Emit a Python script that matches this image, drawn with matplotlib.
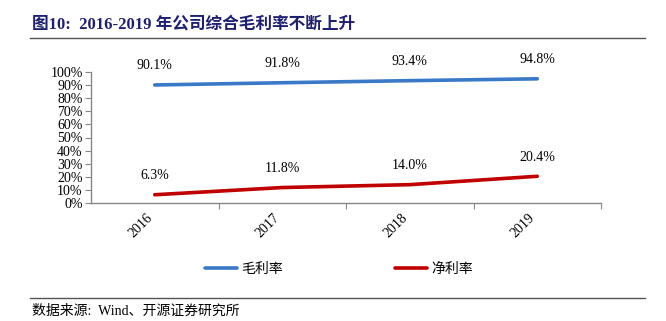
import matplotlib.pyplot as plt
from matplotlib.ticker import FixedLocator, PercentFormatter
from matplotlib.lines import Line2D

years = ['2016', '2017', '2018', '2019']
gross_margin = [90.1, 91.8, 93.4, 94.8]
net_margin = [6.3, 11.8, 14.0, 20.4]
series_names = ['毛利率', '净利率']

SERIF = ['Liberation Serif', 'Noto Sans CJK SC']
BLUE = '#3A78C8'
RED = '#C00000'

fig = plt.figure(figsize=(6.66, 3.21), dpi=100)
ax = fig.add_axes([91 / 666, 118 / 321, 510 / 666, 131 / 321])

x = list(range(len(years)))
ax.plot(x, gross_margin, color=BLUE, lw=2.6, solid_capstyle='round')
ax.plot(x, net_margin, color=RED, lw=2.6, solid_capstyle='round')

for xi, v in zip(x, gross_margin):
    ax.annotate(f'{v:.1f}%', (xi, v), xytext=(0, 9), textcoords='offset points',
                ha='center', va='bottom', fontsize=10, family=SERIF)
for xi, v in zip(x, net_margin):
    ax.annotate(f'{v:.1f}%', (xi, v), xytext=(0, 9), textcoords='offset points',
                ha='center', va='bottom', fontsize=10, family=SERIF)

ax.set_xlim(-0.5, len(years) - 0.5)
ax.set_ylim(0, 100)
ax.yaxis.set_major_locator(FixedLocator(range(0, 101, 10)))
ax.yaxis.set_major_formatter(PercentFormatter(decimals=0))
ax.xaxis.set_major_locator(FixedLocator([i + 0.5 for i in x]))
ax.xaxis.set_minor_locator(FixedLocator(x))
ax.set_xticklabels([], minor=False)
ax.set_xticklabels(years, minor=True, rotation=45, ha='right', va='top',
                   family=SERIF, fontsize=10)
ax.tick_params(axis='x', which='major', length=4, color='#888888')
ax.tick_params(axis='x', which='minor', length=0, pad=6)
ax.tick_params(axis='y', length=4, color='#888888', pad=2)
for lab in ax.get_yticklabels():
    lab.set_family(SERIF)
    lab.set_fontsize(10)

for s in ['top', 'right']:
    ax.spines[s].set_visible(False)
for s in ['left', 'bottom']:
    ax.spines[s].set_color('#888888')
    ax.spines[s].set_linewidth(1)

handles = [Line2D([], [], color=BLUE, lw=2.6, solid_capstyle='round'),
           Line2D([], [], color=RED, lw=2.6, solid_capstyle='round')]
fig.legend(handles, series_names, loc='center', bbox_to_anchor=(339 / 666, 1 - 269 / 321),
           ncol=2, frameon=False, columnspacing=8.1, handlelength=2.3, handletextpad=0.3,
           prop={'family': 'Noto Sans CJK SC', 'size': 10})

# title and frame lines
fig.text(32 / 666, 1 - 25 / 321, '图10:  2016-2019 年公司综合毛利率不断上升', family=SERIF,
         fontsize=12, fontweight='bold', color='#1F1F70', va='center', ha='left')
fig.add_artist(Line2D([30 / 666, 645 / 666], [1 - 38 / 321] * 2, color='#555555', lw=1))
fig.add_artist(Line2D([30 / 666, 645 / 666], [1 - 298 / 321] * 2, color='#555555', lw=1))
fig.text(32 / 666, 1 - 311 / 321, '数据来源:  Wind、开源证券研究所', family=SERIF,
         fontsize=10, va='center', ha='left')

fig.savefig('out.png', dpi=100)
